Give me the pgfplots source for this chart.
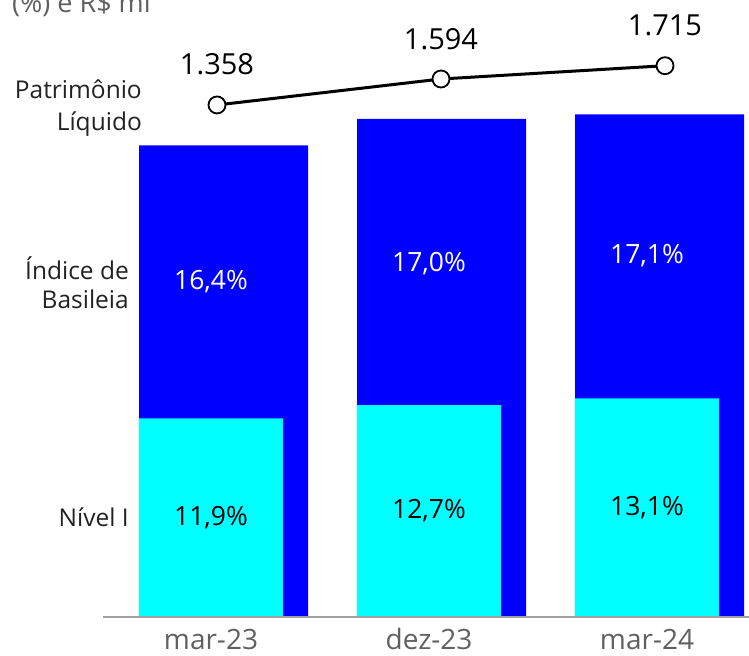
\documentclass[border=0pt]{standalone}
\usepackage{fontspec}
\setmainfont{Open Sans}
\usepackage{pgfplots}
\pgfplotsset{compat=1.18}
\definecolor{bblue}{HTML}{0000FF}
\definecolor{ccyan}{HTML}{00FFFF}
\definecolor{tgray}{HTML}{606060}
\definecolor{lgray}{HTML}{A0A0A0}
\definecolor{ltext}{HTML}{222222}
\pgfplotsset{baseax/.style={scale only axis, width=749bp, height=617bp,
  anchor=south west, at={(0bp,39bp)}, xmin=-0.9679, xmax=2.4679}}
\begin{document}
\begin{tikzpicture}[x=1bp,y=1bp]
\path[use as bounding box] (0,0) rectangle (749,656);
% title (cut off at top)
\node[anchor=base west, text=tgray, inner sep=0pt] at (12,643) {\fontsize{27bp}{32bp}\selectfont (\%) e R\$ mi};
% Indice de Basileia (blue) bars
\begin{axis}[baseax, hide axis, ymin=5.69, ymax=19.70, ybar, bar width=169bp, bar shift=12.5bp]
\addplot[fill=bblue, draw=none] coordinates {(0,16.4) (1,17.0) (2,17.1)};
\end{axis}
% Nivel I (cyan) bars
\begin{axis}[baseax, ymin=0, ymax=36.97, ybar, bar width=144bp, bar shift=0bp,
  axis y line=none, axis x line*=bottom, x axis line style={draw=none},
  xtick={0,1,2}, xticklabels={mar-23,dez-23,mar-24}, major tick length=0pt,
  xticklabel style={anchor=base, yshift=-33bp, text=tgray, inner sep=0pt, font=\fontsize{28bp}{32bp}\selectfont}]
\addplot[fill=ccyan, draw=none] coordinates {(0,11.9) (1,12.7) (2,13.1)};
\node[text=white, font=\fontsize{26.5bp}{30bp}\selectfont] at (axis cs:0,20.09) {16,4\%};
\node[text=white, font=\fontsize{26.5bp}{30bp}\selectfont] at (axis cs:1,21.18) {17,0\%};
\node[text=white, font=\fontsize{26.5bp}{30bp}\selectfont] at (axis cs:2,21.68) {17,1\%};
\node[text=black, font=\fontsize{26.5bp}{30bp}\selectfont] at (axis cs:0,5.95) {11,9\%};
\node[text=black, font=\fontsize{26.5bp}{30bp}\selectfont] at (axis cs:1,6.35) {12,7\%};
\node[text=black, font=\fontsize{26.5bp}{30bp}\selectfont] at (axis cs:2,6.55) {13,1\%};
\end{axis}
% baseline
\draw[lgray, line width=2bp] (103,39) -- (749,39);
% Patrimonio Liquido line
\begin{axis}[scale only axis, width=749bp, height=617bp, anchor=south west, at={(0bp,39bp)},
  hide axis, clip=false, xmin=-0.96875, xmax=2.375, ymin=-3297, ymax=2312.5]
\addplot[black, line width=3bp, mark=*, mark size=8.5bp,
  mark options={fill=white, draw=black, line width=1.8bp}]
  coordinates {(0,1358) (1,1594) (2,1715)};
\node[anchor=base, inner sep=0pt, font=\fontsize{29bp}{34bp}\selectfont, yshift=30bp] at (axis cs:0,1358) {1.358};
\node[anchor=base, inner sep=0pt, font=\fontsize{29bp}{34bp}\selectfont, yshift=30bp] at (axis cs:1,1594) {1.594};
\node[anchor=base, inner sep=0pt, font=\fontsize{29bp}{34bp}\selectfont, yshift=30bp] at (axis cs:2,1715) {1.715};
\end{axis}
% series labels
\begin{scope}[every node/.style={anchor=base east, inner sep=0pt, text=ltext, font=\fontsize{24.5bp}{29bp}\selectfont}]
\node at (142,557) {Patrimônio};
\node at (142,525) {Líquido};
\node at (129,376) {Índice de};
\node at (129,347) {Basileia};
\node at (129,129) {Nível I};
\end{scope}
\end{tikzpicture}
\end{document}
